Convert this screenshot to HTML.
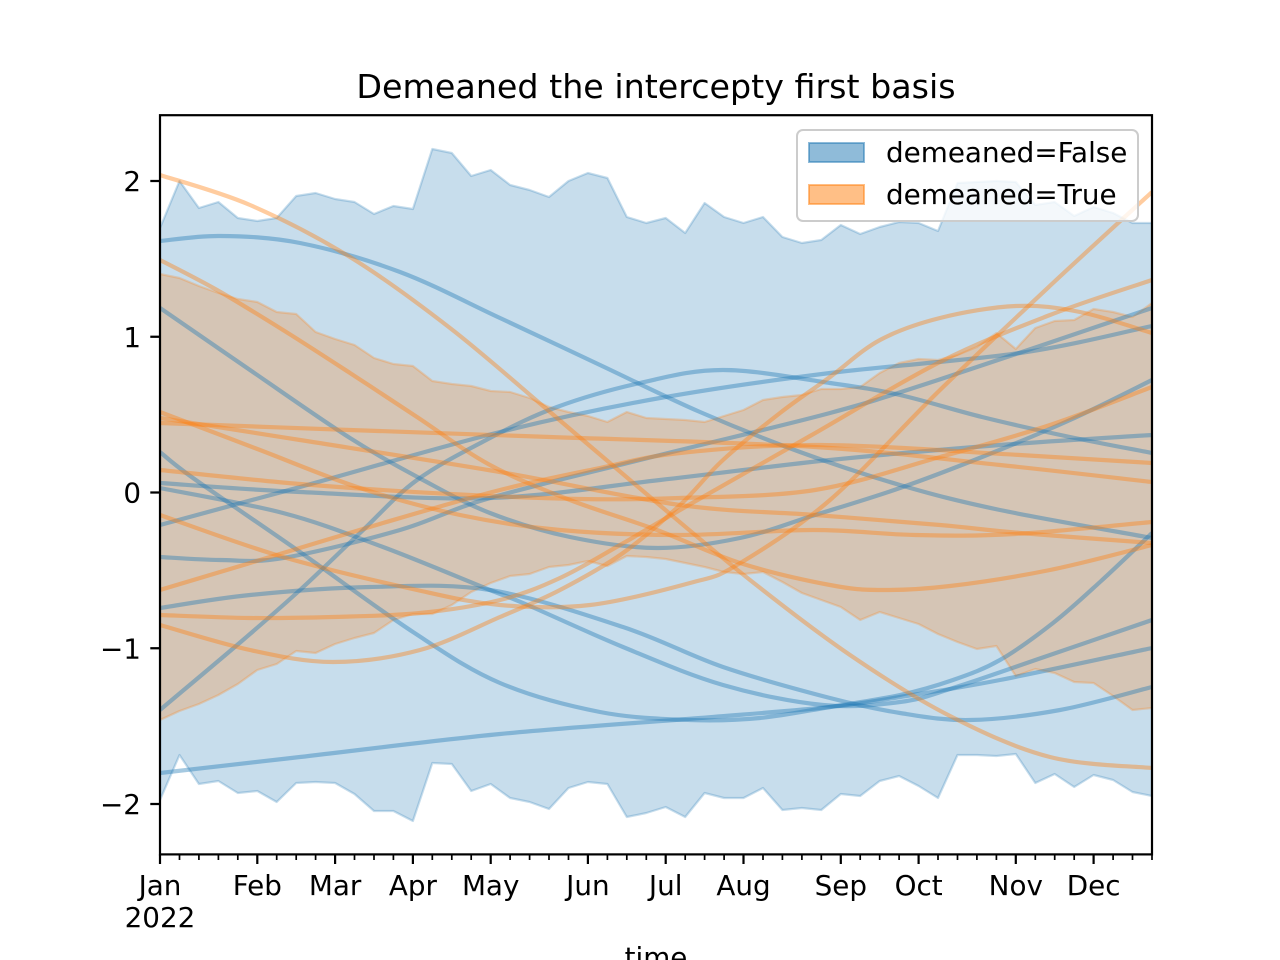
<!DOCTYPE html>
<html>
<head>
<meta charset="utf-8">
<style>
  html,body{margin:0;padding:0;background:#fff;}
  svg{display:block;}
  text{font-family:"DejaVu Sans","Liberation Sans",sans-serif;fill:#000;}
</style>
</head>
<body>
<svg id="chart" width="1280" height="960" viewBox="0 0 1280 960" xmlns="http://www.w3.org/2000/svg">
  <defs>
    <clipPath id="ax"><rect x="160" y="115.2" width="992" height="739.2"/></clipPath>
  </defs>
  <rect x="0" y="0" width="1280" height="960" fill="#fff"/>

  <g clip-path="url(#ax)">
    <polygon fill="#1f77b4" fill-opacity="0.25" stroke="#1f77b4" stroke-opacity="0.25" stroke-width="2.2" stroke-linejoin="round"
      points="160,228 179.5,181 198.9,208 218.4,202 237.8,218 257.3,221 276.7,218 296.2,196 315.6,193 335.1,199 354.5,202 374,214 393.4,206 412.9,209 432.3,149 451.8,153 471.2,176 490.7,170 510.1,185 529.6,190 549,197 568.5,181 587.9,173 607.4,178 626.8,217 646.3,223 665.7,218 685.2,233 704.6,203 724.1,217 743.5,223 763,217 782.4,237 801.9,243 821.3,240 840.8,225 860.2,234 879.7,227 899.1,222 918.6,223 938,231 957.5,183 976.9,182 996.4,181 1015.8,182 1035.3,205 1054.7,202 1074.2,216 1093.6,207 1113.1,213 1132.5,223 1152,223 1152,796 1132.5,792 1113.1,780 1093.6,775 1074.2,787 1054.7,774 1035.3,783 1015.8,754 996.4,756 976.9,755 957.5,755 938,798 918.6,786 899.1,776 879.7,781 860.2,796 840.8,794 821.3,810 801.9,808 782.4,810 763,788 743.5,798 724.1,798 704.6,793 685.2,817 665.7,807 646.3,813 626.8,817 607.4,784 587.9,782 568.5,788 549,809 529.6,802 510.1,798 490.7,784 471.2,791 451.8,764 432.3,763 412.9,821 393.4,811 374,811 354.5,794 335.1,783 315.6,782 296.2,783 276.7,802 257.3,791 237.8,793 218.4,781 198.9,784 179.5,755 160,800"/>
    <polygon fill="#ff7f0e" fill-opacity="0.25" stroke="#ff7f0e" stroke-opacity="0.25" stroke-width="2.2" stroke-linejoin="round"
      points="160,274 179.5,278 198.9,286 218.4,293 237.8,299 257.3,302 276.7,312 296.2,314 315.6,332 335.1,339 354.5,345 374,358 393.4,364 412.9,366 432.3,381 451.8,384 471.2,386 490.7,391 510.1,392 529.6,398 549,407 568.5,412 587.9,416 607.4,422 626.8,412 646.3,418 665.7,419 685.2,420 704.6,422 724.1,416 743.5,410 763,400 782.4,397 801.9,395 821.3,389 840.8,389 860.2,387 879.7,373 899.1,363 918.6,359 938,360 957.5,355 976.9,347 996.4,333 1015.8,349 1035.3,328 1054.7,321 1074.2,320 1093.6,309 1113.1,312 1132.5,317 1152,303 1152,708 1132.5,710 1113.1,696 1093.6,683 1074.2,682 1054.7,673 1035.3,669 1015.8,676 996.4,646 976.9,649 957.5,642 938,634 918.6,624 899.1,618 879.7,612 860.2,620 840.8,607 821.3,600 801.9,593 782.4,582 763,572 743.5,574 724.1,572 704.6,567 685.2,563 665.7,559 646.3,557 626.8,556 607.4,566 587.9,561 568.5,565 549,567 529.6,574 510.1,576 490.7,583 471.2,592 451.8,605 432.3,614 412.9,614 393.4,620 374,633 354.5,638 335.1,644 315.6,653 296.2,651 276.7,664 257.3,670 237.8,684 218.4,695 198.9,704 179.5,711 160,720"/>

    <g fill="none" stroke="#1f77b4" stroke-opacity="0.4" stroke-width="4.2" stroke-linejoin="round" class="smooth">
      <polyline points="160,241 220,236 300,243 400,272 500,318 600,365 700,412 800,452 900,485 1000,510 1152,538"/>
      <polyline points="160,308 250,370 350,438 423,480 490,513 570,537 657,548 740,538 815,515 900,488 982,457 1070,420 1152,380"/>
      <polyline points="160,452 193,478 300,552 413,632 500,683 600,712 690,720 760,718 830,707 900,695 953,680 1000,660 1053,623 1100,582 1152,533"/>
      <polyline points="160,488 283,513 383,547 490,590 523,603 623,647 723,685 823,705 900,702 953,688 1050,655 1152,620"/>
      <polyline points="160,608 250,595 370,587 490,590 623,627 723,667 830,698 900,713 970,720 1060,710 1152,687"/>
      <polyline points="160,773 300,757 500,734 700,718 830,707 900,697 1000,680 1152,648"/>
      <polyline points="160,710 243,640 300,590 360,533 417,480 490,438 557,407 640,383 723,370 830,383 900,395 982,417 1070,437 1152,453"/>
      <polyline points="160,525 300,487 500,432 660,398 830,373 1020,353 1152,326"/>
      <polyline points="160,557 220,560 283,558 400,530 490,498 660,455 830,413 938,380 1152,308"/>
      <polyline points="160,483 300,492 490,498 660,480 830,460 1000,445 1152,435"/>
    </g>
    <g fill="none" stroke="#ff7f0e" stroke-opacity="0.4" stroke-width="4.2" stroke-linejoin="round" class="smooth">
      <polyline points="160,175 250,205 350,257 450,328 550,412 650,497 750,580 850,655 950,716 1050,757 1152,768"/>
      <polyline points="160,260 217,290 283,330 350,373 417,417 490,465 570,500 657,530 740,563 830,585 882,590 950,586 1050,570 1152,545"/>
      <polyline points="160,412 260,450 360,488 460,515 560,530 680,535 813,530 915,535 1015,534 1152,522"/>
      <polyline points="160,418 300,440 500,472 680,505 815,515 940,525 1020,533 1152,543"/>
      <polyline points="160,423 350,430 550,437 815,447 1000,465 1152,482"/>
      <polyline points="160,470 300,484 450,494 580,499 680,498 815,490 940,457 1050,425 1152,387"/>
      <polyline points="160,590 250,563 383,523 500,490 600,468 680,453 820,445 1020,455 1152,463"/>
      <polyline points="160,625 250,650 333,662 420,650 500,617 560,590 623,553 680,505 723,460 780,413 830,377 880,340 940,318 1016,306 1080,312 1152,333"/>
      <polyline points="160,615 250,618 333,617 420,613 500,600 560,578 620,545 680,510 810,436 940,362 1050,315 1152,280"/>
      <polyline points="160,515 283,557 417,590 500,605 590,605 690,583 737,565 830,500 940,390 1053,283 1152,192"/>
    </g>
  </g>

  <rect x="797" y="130" width="341" height="91" rx="6" ry="6" fill="#ffffff" fill-opacity="0.8" stroke="#cccccc" stroke-width="2"/>
  <rect x="809" y="143" width="55" height="19" fill="#1f77b4" fill-opacity="0.5" stroke="#1f77b4" stroke-opacity="0.5" stroke-width="2"/>
  <rect x="809" y="185" width="55" height="19" fill="#ff7f0e" fill-opacity="0.5" stroke="#ff7f0e" stroke-opacity="0.5" stroke-width="2"/>
  <text x="886" y="162" font-size="27.8">demeaned=False</text>
  <text x="886" y="204" font-size="27.8">demeaned=True</text>

  <rect x="160" y="115.2" width="992" height="739.2" fill="none" stroke="#000" stroke-width="2.2"/>

  <path stroke="#000" stroke-width="2.2" fill="none"
    d="M150.3,181H160M150.3,336.75H160M150.3,492.5H160M150.3,648.25H160M150.3,804H160"/>
  <g font-size="27.8" text-anchor="end">
    <text x="141" y="191">2</text>
    <text x="141" y="346.75">1</text>
    <text x="141" y="502.5">0</text>
    <text x="141" y="658.25">−1</text>
    <text x="141" y="814">−2</text>
  </g>

  <path stroke="#000" stroke-width="1.7" fill="none"
    d="M179.5,854.4V860M198.9,854.4V860M218.4,854.4V860M237.8,854.4V860M276.7,854.4V860M296.2,854.4V860M315.6,854.4V860M354.5,854.4V860M374,854.4V860M393.4,854.4V860M432.3,854.4V860M451.8,854.4V860M471.2,854.4V860M510.1,854.4V860M529.6,854.4V860M549,854.4V860M568.5,854.4V860M607.4,854.4V860M626.8,854.4V860M646.3,854.4V860M685.2,854.4V860M704.6,854.4V860M724.1,854.4V860M763,854.4V860M782.4,854.4V860M801.9,854.4V860M821.3,854.4V860M860.2,854.4V860M879.7,854.4V860M899.1,854.4V860M938,854.4V860M957.5,854.4V860M976.9,854.4V860M996.4,854.4V860M1035.3,854.4V860M1054.7,854.4V860M1074.2,854.4V860M1113.1,854.4V860M1132.5,854.4V860M1152,854.4V860"/>
  <path stroke="#000" stroke-width="2.2" fill="none"
    d="M160,854.4V864M257.3,854.4V864M335.1,854.4V864M412.9,854.4V864M490.7,854.4V864M587.9,854.4V864M665.7,854.4V864M743.5,854.4V864M840.8,854.4V864M918.6,854.4V864M1015.8,854.4V864M1093.6,854.4V864"/>
  <g font-size="27.8" text-anchor="middle">
    <text x="160" y="895">Jan</text>
    <text x="160" y="927">2022</text>
    <text x="257.3" y="895">Feb</text>
    <text x="335.1" y="895">Mar</text>
    <text x="412.9" y="895">Apr</text>
    <text x="490.7" y="895">May</text>
    <text x="587.9" y="895">Jun</text>
    <text x="665.7" y="895">Jul</text>
    <text x="743.5" y="895">Aug</text>
    <text x="840.8" y="895">Sep</text>
    <text x="918.6" y="895">Oct</text>
    <text x="1015.8" y="895">Nov</text>
    <text x="1093.6" y="895">Dec</text>
    <text x="656" y="967">time</text>
  </g>

  <text x="656" y="98" font-size="33.3" text-anchor="middle">Demeaned the intercepty first basis</text>
</svg>
<script>
(function(){
  var NS="http://www.w3.org/2000/svg";
  var groups=document.querySelectorAll("g.smooth");
  for(var g=0;g<groups.length;g++){
    var pls=groups[g].querySelectorAll("polyline");
    for(var k=0;k<pls.length;k++){
      var pl=pls[k];
      var raw=pl.getAttribute("points").trim().split(/\s+/);
      var p=[];
      for(var i=0;i<raw.length;i++){var xy=raw[i].split(",");p.push([+xy[0],+xy[1]]);}
      if(p.length<3)continue;
      var d="M"+p[0][0]+","+p[0][1];
      for(var i=0;i<p.length-1;i++){
        var p0=p[i>0?i-1:i],p1=p[i],p2=p[i+1],p3=p[i+2<p.length?i+2:i+1];
        var c1x=p1[0]+(p2[0]-p0[0])/6,c1y=p1[1]+(p2[1]-p0[1])/6;
        var c2x=p2[0]-(p3[0]-p1[0])/6,c2y=p2[1]-(p3[1]-p1[1])/6;
        d+="C"+c1x.toFixed(1)+","+c1y.toFixed(1)+" "+c2x.toFixed(1)+","+c2y.toFixed(1)+" "+p2[0]+","+p2[1];
      }
      var path=document.createElementNS(NS,"path");
      path.setAttribute("d",d);
      pl.parentNode.replaceChild(path,pl);
    }
  }
})();
</script>
</body>
</html>
